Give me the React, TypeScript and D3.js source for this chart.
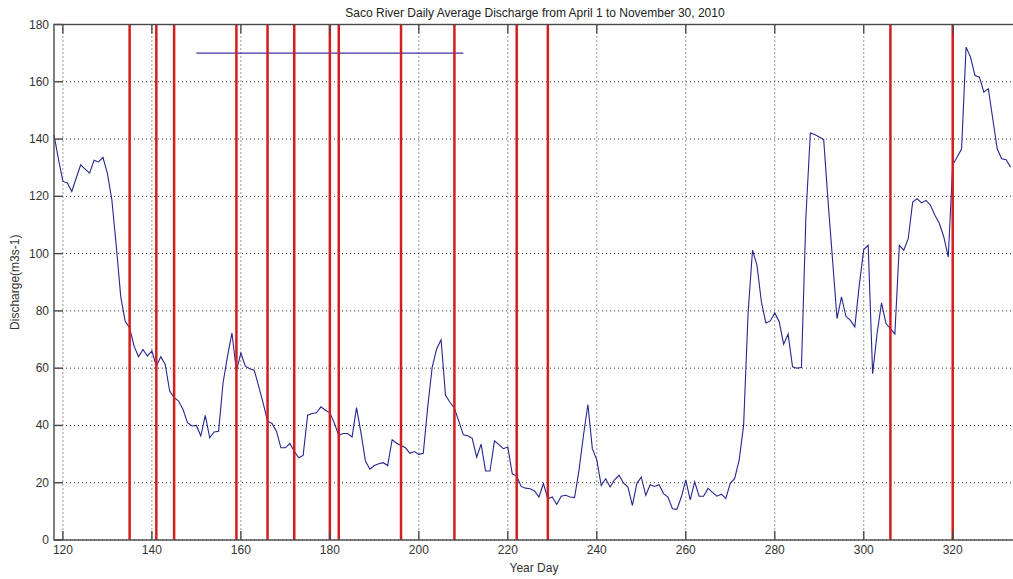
import * as d3 from 'd3';

// Saco River daily average discharge, one value per day starting at day 118
const firstDay = 118;
const discharge = [
  141.5, 133, 125.2, 124.7, 121.7, 126.4, 131, 129.5, 128.1, 132.6,
  132, 133.6, 128, 118.8, 102.6, 85, 76.4, 74, 67.7, 64,
  66.5, 64.2, 66, 60.7, 64, 61.3, 52, 49.7, 48.5, 45.6,
  41, 39.8, 40, 36.3, 43.5, 35.7, 37.7, 38, 54.9, 64.2,
  72.3, 59, 65.3, 60.7, 59.8, 59.3, 53.7, 47.9, 41.5, 40.7,
  38, 32.2, 32.2, 33.7, 31, 28.7, 29.5, 43.6, 44.2, 44.4,
  46.5, 45.3, 44.4, 40.9, 36.5, 37.2, 37.2, 36, 46.2, 37.4,
  27.6, 24.7, 26, 26.6, 27, 26, 35, 33.8, 33, 32.2,
  30.3, 30.9, 29.9, 30.3, 46.4, 60.3, 66.7, 69.9, 50.5, 48.1,
  46, 41.4, 36.7, 36.4, 35.5, 28.9, 33.5, 24.1, 24.1, 34.6,
  33.3, 31.9, 32.5, 23.1, 22.3, 18.7, 18.1, 17.9, 17.1, 15,
  19.7, 14.4, 15, 12.4, 15.3, 15.6, 15, 14.8, 24.3, 36.5,
  47.3, 31.9, 28, 19, 21.4, 18.5, 21, 22.6, 19.9, 18.5,
  12.1, 19.7, 22, 15.6, 19.3, 18.7, 19.3, 16.2, 15, 10.9,
  10.7, 15, 21, 14, 20.3, 15.3, 15.3, 18, 16.6, 15.3,
  16, 14.5, 19.8, 21.5, 27.9, 40, 79, 101.2, 96, 83.1,
  75.8, 76.5, 79.3, 76.2, 68.4, 71.9, 60.5, 60, 60.2, 112.8,
  142.1, 141.6, 140.7, 139.8, 117.9, 97.7, 77.3, 84.9, 78.1, 76.7,
  74.4, 89, 101.4, 102.9, 58.1, 72.1, 82.8, 75.6, 73.8, 71.9,
  102.9, 101.2, 105.2, 118, 119.2, 117.7, 118.6, 116.9, 113.4, 110.5,
  105.8, 98.8, 131, 133.7, 136.6, 172.1, 168.6, 162.2, 161.6, 156.4,
  157.6, 147.1, 136.6, 133.1, 132.8, 130.2,
];

// sampling days marked with red lines
const markerDays = [135, 141, 145, 159, 166, 172, 180, 182, 196, 208, 222, 229, 306, 320];

// reference segment drawn at 170
const refSegment = { from: 150, to: 210, level: 170 };

const xTicks = [120, 140, 160, 180, 200, 220, 240, 260, 280, 300, 320];
const yTicks = [0, 20, 40, 60, 80, 100, 120, 140, 160, 180];

const width = 1013;
const height = 579;
const marginLeft = 54;
const marginTop = 24.5;
const plotBottom = 540;
const plotRight = 1015;

const font = '"Liberation Sans", Arial, Helvetica, sans-serif';
const lineColor = '#26268f';
const redColor = '#d21e1e';
const axisColor = '#4a4a4a';

export default function App() {
  const x = d3.scaleLinear().domain([118, 334]).range([marginLeft, plotRight]);
  const y = d3.scaleLinear().domain([0, 180]).range([plotBottom, marginTop]);

  const line = d3.line<number>()
    .x((_, i) => x(firstDay + i))
    .y((d) => y(d));

  const tickLen = 9;

  return (
    <svg
      width={width}
      height={height}
      style={{ position: 'absolute', left: 0, top: 0, background: '#fff' }}
    >
      <rect x={0} y={0} width={width} height={height} fill="#fff" />

      {/* grid */}
      <g stroke="#333" strokeWidth={1} strokeDasharray="1,3">
        {xTicks.map((t) => (
          <line key={'gx' + t} x1={x(t)} x2={x(t)} y1={y(180)} y2={y(0)} />
        ))}
        {yTicks.map((t) => (
          <line key={'gy' + t} x1={x(118)} x2={x(334)} y1={y(t)} y2={y(t)} />
        ))}
      </g>

      {/* data */}
      <path d={line(discharge) ?? ''} fill="none" stroke={lineColor} strokeWidth={1.1} />
      <line
        x1={x(refSegment.from)}
        x2={x(refSegment.to)}
        y1={y(refSegment.level)}
        y2={y(refSegment.level)}
        stroke="#3a35a0"
        strokeWidth={1.2}
      />

      {/* marker lines */}
      <g stroke={redColor} strokeWidth={2.5}>
        {markerDays.map((d) => (
          <line key={'m' + d} x1={x(d)} x2={x(d)} y1={y(180)} y2={y(0)} />
        ))}
      </g>

      {/* axes box + ticks */}
      <g stroke={axisColor} strokeWidth={1.4} fill="none">
        <rect x={x(118)} y={y(180)} width={x(334) - x(118)} height={y(0) - y(180)} />
        {xTicks.map((t) => (
          <g key={'tx' + t}>
            <line x1={x(t)} x2={x(t)} y1={y(0)} y2={y(0) - tickLen} />
            <line x1={x(t)} x2={x(t)} y1={y(180)} y2={y(180) + tickLen} />
          </g>
        ))}
        {yTicks.map((t) => (
          <line key={'ty' + t} x1={x(118)} x2={x(118) + tickLen} y1={y(t)} y2={y(t)} />
        ))}
      </g>

      {/* tick labels */}
      <g fontFamily={font} fontSize={12} fill="#333">
        {xTicks.map((t) => (
          <text key={'lx' + t} x={x(t)} y={y(0) + 14} textAnchor="middle">{t}</text>
        ))}
        {yTicks.map((t) => (
          <text key={'ly' + t} x={x(118) - 5} y={y(t) + 4} textAnchor="end">{t}</text>
        ))}
      </g>

      <text x={535} y={17} textAnchor="middle" fontFamily={font} fontSize={12} fill="#222">
        Saco River Daily Average Discharge from April 1 to November 30, 2010
      </text>
      <text x={534} y={572} textAnchor="middle" fontFamily={font} fontSize={12} fill="#333">
        Year Day
      </text>
      <text
        transform={`translate(19,${(y(0) + y(180)) / 2}) rotate(-90)`}
        textAnchor="middle"
        fontFamily={font}
        fontSize={12}
        fill="#333"
      >
        Discharge(m3s-1)
      </text>
    </svg>
  );
}
